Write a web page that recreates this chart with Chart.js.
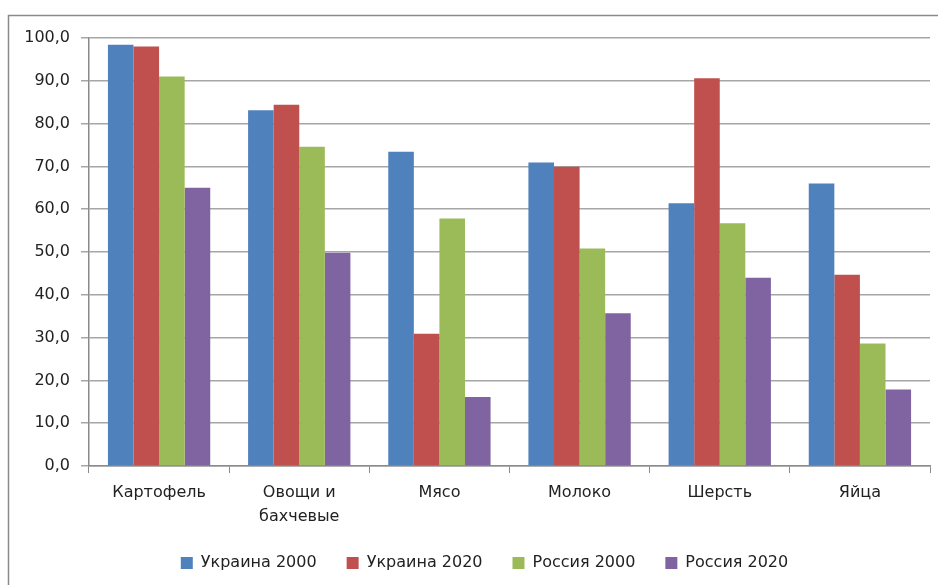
<!DOCTYPE html>
<html>
<head>
<meta charset="utf-8">
<script src="https://cdn.jsdelivr.net/npm/chart.js@4"></script>
<style>
html,body{margin:0;padding:0;background:#fff;}
#wrap{width:938px;height:585px;position:relative;}
</style>
</head>
<body>
<div id="wrap"><canvas id="c" width="938" height="585"></canvas></div>
<script>
const categories = ['Картофель', ['Овощи и', 'бахчевые'], 'Мясо', 'Молоко', 'Шерсть', 'Яйца'];
const seriesNames = ['Украина 2000', 'Украина 2020', 'Россия 2000', 'Россия 2020'];
const ukraine2000 = [98.4, 83.1, 73.4, 70.9, 61.4, 66.0];
const ukraine2020 = [98.0, 84.4, 30.9, 69.9, 90.6, 44.7];
const russia2000 = [91.0, 74.6, 57.8, 50.8, 56.7, 28.6];
const russia2020 = [65.0, 49.8, 16.1, 35.7, 44.0, 17.9];
const yTicks = [0, 10, 20, 30, 40, 50, 60, 70, 80, 90, 100];
const colors = ['#4F81BD', '#C0504D', '#9BBB59', '#8064A2'];

const FONT = 'DejaVu Sans';
const frame = {
  id: 'frame',
  beforeDraw(chart) {
    const ctx = chart.ctx;
    ctx.save();
    ctx.fillStyle = '#fff';
    ctx.fillRect(0, 0, chart.width, chart.height);
    ctx.strokeStyle = '#8a8a8a';
    ctx.lineWidth = 1.5;
    ctx.beginPath();
    ctx.moveTo(8.5, chart.height + 5);
    ctx.lineTo(8.5, 15.5);
    ctx.lineTo(chart.width + 5, 15.5);
    ctx.stroke();
    ctx.restore();
  },
  afterLayout(chart) {
    if (chart.legend) { chart.legend.left += 19.5; chart.legend.right += 19.5; }
  }
};

new Chart(document.getElementById('c'), {
  type: 'bar',
  data: {
    labels: categories,
    datasets: [ukraine2000, ukraine2020, russia2000, russia2020].map((d, i) => ({
      label: seriesNames[i],
      data: d,
      backgroundColor: colors[i],
      borderWidth: 0,
      categoryPercentage: 0.73,
      barPercentage: 1.0
    }))
  },
  options: {
    responsive: false,
    animation: false,
    devicePixelRatio: 1,
    layout: { padding: { left: 0, right: 8, top: 38, bottom: 4 } },
    plugins: {
      tooltip: { enabled: false },
      legend: {
        position: 'bottom',
        labels: {
          boxWidth: 12, boxHeight: 12, padding: 30,
          color: '#222',
          font: { family: FONT, size: 16 }
        }
      }
    },
    scales: {
      x: {
        grid: { display: true, drawOnChartArea: false, tickLength: 7, color: '#8a8a8a', offset: true },
        border: { color: '#8a8a8a', width: 1.5 },
        ticks: {
          color: '#222', padding: 7, maxRotation: 0, autoSkip: false,
          font: { family: FONT, size: 16, lineHeight: 1.55 }
        },
        afterFit(s) { s.height = 59; }
      },
      y: {
        min: 0, max: 100,
        afterBuildTicks(s) { s.ticks = yTicks.map(v => ({ value: v })); },
        grid: { color: '#a6a6a6', lineWidth: 1.5, tickLength: 8 },
        border: { color: '#8a8a8a', width: 1.5 },
        ticks: {
          color: '#222', padding: 11,
          font: { family: FONT, size: 16 },
          callback: v => v.toFixed(1).replace('.', ',')
        },
        afterFit(s) { s.width = 89; }
      }
    }
  },
  plugins: [frame]
});
</script>
</body>
</html>
